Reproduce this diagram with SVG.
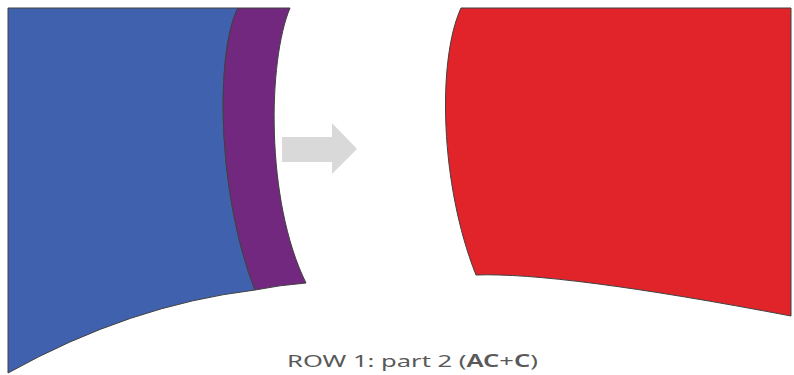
<svg xmlns="http://www.w3.org/2000/svg" width="794" height="375" viewBox="0 0 794 375">
<style>
.shape{stroke:#404040;stroke-width:1;stroke-linejoin:round}
.lbl{font-family:"Noto Sans","Open Sans",sans-serif;font-size:17px;fill:#595959}
</style>
<rect width="794" height="375" fill="#ffffff"/>
<g id="blue">
<path class="shape" fill="#4061ad" d="M8,8 L238,8 C216,50 216,190 255,290 Q130,305 8,373 Z"/>
</g>
<g id="purple">
<path class="shape" fill="#73287f" d="M238,8 L290,8 C268,60 265,200 306,283 Q280,285 255,290 C216,190 216,50 238,8 Z"/>
</g>
<g id="connectors">
<polygon fill="#d9d9d9" points="282,137 332,137 332,123 357,149 332,174 332,162 282,162"/>
</g>
<g id="red">
<path class="shape" fill="#e0242a" d="M461,8 L791,8 L791,316 Q560,272 476,275 C440,185 437,60 461,8 Z"/>
</g>
<g id="label">
<text class="lbl" x="287" y="367" textLength="251" lengthAdjust="spacingAndGlyphs">ROW 1: part 2 (<tspan font-weight="600">AC</tspan>+<tspan font-weight="600">C</tspan>)</text>
</g>
</svg>
